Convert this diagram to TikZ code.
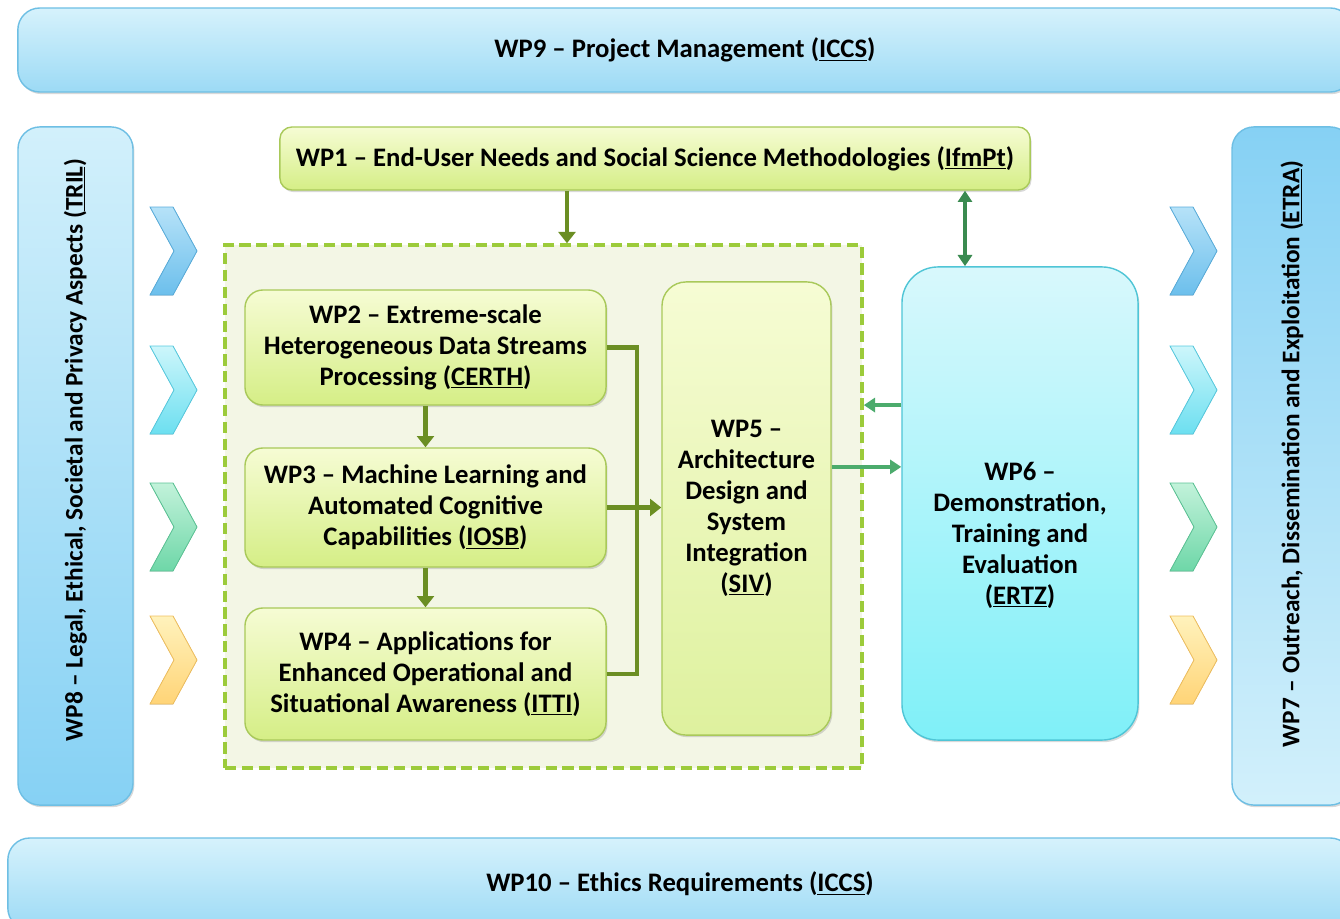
\documentclass[tikz,border=0pt]{standalone}
\usepackage{fontspec}
\setmainfont{Carlito}
\usepackage{tikz}
\usetikzlibrary{arrows.meta,shadows,positioning}

\definecolor{barline}{HTML}{6EBFE4}
\definecolor{bartop}{HTML}{D6F2FC}
\definecolor{barbot}{HTML}{9CDAF5}
\definecolor{sidelight}{HTML}{D2F0FB}
\definecolor{sidedark}{HTML}{86D1F4}
\definecolor{wpline}{HTML}{A9C95A}
\definecolor{wptop}{HTML}{F6FCD4}
\definecolor{wpbot}{HTML}{D5EE86}
\definecolor{wpfivebot}{HTML}{DEF19E}
\definecolor{demoline}{HTML}{4FC5D6}
\definecolor{demotop}{HTML}{D8F8FC}
\definecolor{demobot}{HTML}{7FF0F8}
\definecolor{framefill}{HTML}{F3F6E5}
\definecolor{frameline}{HTML}{9CCB3A}
\definecolor{olivearrow}{HTML}{6B8E23}
\definecolor{greenarrow}{HTML}{4CAB6C}
\definecolor{darkarrow}{HTML}{3A8A50}
\definecolor{cAt}{HTML}{B6E2F8}\definecolor{cAb}{HTML}{6CBFEC}\definecolor{cAl}{HTML}{5AAEDC}
\definecolor{cBt}{HTML}{CDF6FB}\definecolor{cBb}{HTML}{6CDFF0}\definecolor{cBl}{HTML}{58CBE0}
\definecolor{cCt}{HTML}{C2F2DA}\definecolor{cCb}{HTML}{6ED7A8}\definecolor{cCl}{HTML}{5CC496}
\definecolor{cDt}{HTML}{FFF2BC}\definecolor{cDb}{HTML}{FFD477}\definecolor{cDl}{HTML}{F0C060}

\begin{document}
\begin{tikzpicture}[x=0.025cm,y=-0.025cm,
  font=\fontsize{19}{22}\selectfont\bfseries,
  shade/.style={drop shadow={opacity=0.3,shadow xshift=1pt,shadow yshift=-1.5pt}},
  bar/.style={shade,draw=barline,line width=1pt,rounded corners=0.55cm,
    top color=bartop,bottom color=barbot,inner sep=0pt,align=center},
  wpbox/.style={shade,draw=wpline,line width=1pt,rounded corners=0.45cm,
    top color=wptop,bottom color=wpbot,inner sep=0pt,align=center},
  flow/.style={draw=olivearrow,line width=3pt,-{Triangle[width=12pt,length=8pt]}},
  flowline/.style={draw=olivearrow,line width=3pt},
  link/.style={draw=greenarrow,line width=2.4pt,-{Triangle[width=10pt,length=8pt]}}]
\useasboundingbox (0,0) rectangle (1340,919);

% Rahmen oben, unten und seitlich
\node[bar,minimum width=33.35cm,minimum height=2.1cm] (WP9) at (685,50)
  {\raisebox{-3pt}{WP9 -- Project Management (\underline{ICCS})}};
\node[bar,minimum width=33.6cm,minimum height=2.3cm] (WP10) at (680,884)
  {WP10 -- Ethics Requirements (\underline{ICCS})};
\node[bar,top color=sidelight,bottom color=sidedark,minimum width=2.875cm,
  minimum height=16.95cm] (WP8) at (75.5,466) {};
\node[rotate=90,font=\fontsize{18}{22}\selectfont\bfseries] at ([yshift=0.4cm]WP8.center)
  {WP8 -- Legal, Ethical, Societal and Privacy Aspects (\underline{TRIL})};
\node[bar,top color=sidedark,bottom color=sidelight,minimum width=3cm,
  minimum height=16.95cm] (WP7) at (1292,466) {};
\node[rotate=90,font=\fontsize{18}{22}\selectfont\bfseries] at ([yshift=0.3cm]WP7.center)
  {WP7 -- Outreach, Dissemination and Exploitation (\underline{ETRA})};

% Pfeile links und rechts
\foreach \y/\t/\b/\l in {251/cAt/cAb/cAl,390/cBt/cBb/cBl,527/cCt/cCb/cCl,660/cDt/cDb/cDl}
  \foreach \x in {150,1170}
    \filldraw[draw=\l,line width=0.6pt,top color=\t,bottom color=\b]
      (\x,\y-44) -- ++(23,0) -- (\x+47,\y) -- (\x+23,\y+44) -- (\x,\y+44)
      -- (\x+24,\y) -- cycle;

\node[wpbox,minimum width=18.75cm,minimum height=1.575cm,rounded corners=0.3cm]
  (WP1) at (655,158.5)
  {WP1 -- End-User Needs and Social Science Methodologies (\underline{IfmPt})};

\node[draw=frameline,fill=framefill,dashed,dash pattern=on 8pt off 4pt,
  line width=2.4pt,minimum width=15.925cm,minimum height=13.075cm] (frame) at (543.5,506.5) {};

\node[wpbox,minimum width=9.025cm,minimum height=2.875cm] (WP2) at (425.5,347.5)
  {WP2 -- Extreme-scale\\Heterogeneous Data Streams\\Processing (\underline{CERTH})};
\node[wpbox,minimum width=9.025cm,minimum height=2.975cm] (WP3) at (425.5,507.5)
  {WP3 -- Machine Learning and\\Automated Cognitive\\Capabilities (\underline{IOSB})};
\node[wpbox,minimum width=9.025cm,minimum height=3.3cm] (WP4) at (425.5,674)
  {WP4 -- Applications for\\Enhanced Operational and\\Situational Awareness (\underline{ITTI})};
\node[wpbox,bottom color=wpfivebot,minimum width=4.225cm,minimum height=11.325cm,
  rounded corners=0.6cm] (WP5) at (746.5,508.5)
  {WP5 --\\Architecture\\Design and\\System\\Integration\\(\underline{SIV})};
\node[wpbox,draw=demoline,top color=demotop,bottom color=demobot,minimum width=5.9cm,
  minimum height=11.825cm,rounded corners=0.9cm] (WP6) at (1020,503.5) {};
\node[align=center] at ([yshift=-0.8cm]WP6.center)
  {WP6 --\\Demonstration,\\Training and\\Evaluation\\(\underline{ERTZ})};

% Verbindungen
\draw[flow] ([xshift=-2.2cm]WP1.south) -- ([xshift=-2.2cm]WP1.south |- frame.north);
\draw[draw=darkarrow,line width=2.6pt,{Triangle[width=10pt,length=8pt]}-{Triangle[width=10pt,length=8pt]}]
  ([xshift=-1.375cm]WP6.north) -- ([xshift=-1.375cm]WP6.north |- WP1.south);
\draw[flow] (WP2) -- (WP3);
\draw[flow] (WP3) -- (WP4);
\draw[flowline] (WP2.east) -- ++(30,0) |- (WP4.east);
\draw[flow] (WP3.east) -- (WP5.west |- WP3.east);
\draw[link] ([yshift=2.46cm]WP6.west) -- ([yshift=2.46cm]WP6.west -| frame.east);
\draw[link] ([yshift=1.04cm]WP5.east) -- ([yshift=1.04cm]WP5.east -| WP6.west);
\end{tikzpicture}
\end{document}
